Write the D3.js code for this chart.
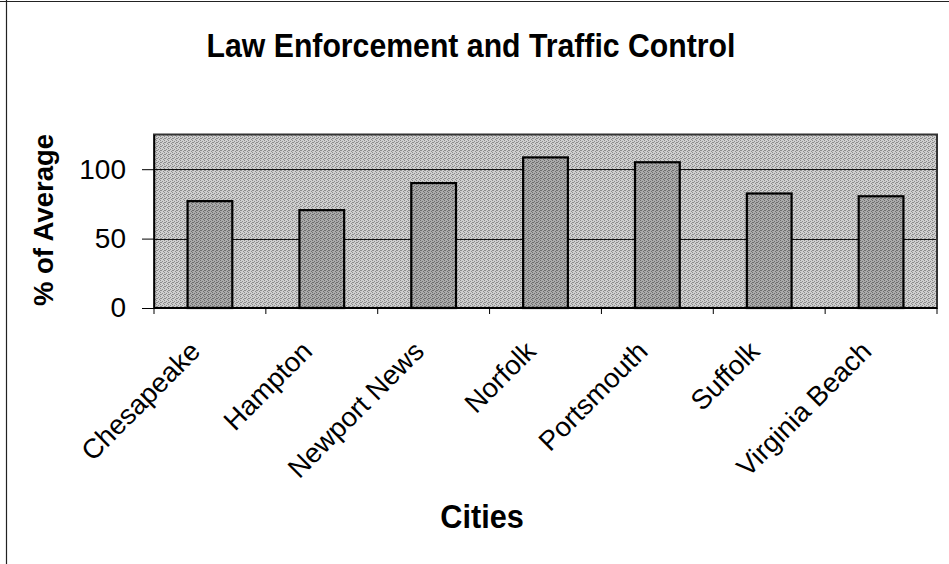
<!DOCTYPE html>
<html>
<head>
<meta charset="utf-8">
<script src="https://cdn.jsdelivr.net/npm/d3@7"></script>
<style>
  html, body { margin: 0; padding: 0; background: #fff; }
  svg { display: block; }
  text { font-family: "Liberation Sans", Arial, sans-serif; fill: #000; }
</style>
</head>
<body>
<svg id="chart" width="949" height="564"></svg>
<script>
const chartTitle = "Law Enforcement and Traffic Control";
const xTitle = "Cities";
const yTitle = "% of Average";
const cities = ["Chesapeake", "Hampton", "Newport News", "Norfolk", "Portsmouth", "Suffolk", "Virginia Beach"];
const values = [77, 70.5, 90, 108.5, 105, 82.5, 80.5];
const yTicks = [0, 50, 100];
const yMax = 125;

const svg = d3.select("#chart");
const W = 949, H = 564;
const plot = { left: 154, right: 937, top: 134.5, bottom: 308 };

// dither-like patterns
const defs = svg.append("defs");
function dither(id, light, dark) {
  const p = defs.append("pattern").attr("id", id).attr("patternUnits", "userSpaceOnUse")
    .attr("width", 4).attr("height", 4);
  p.append("rect").attr("width", 4).attr("height", 4).attr("fill", light);
  [[0,0],[2,1],[1,2],[3,3],[0,2]].forEach(([a,b]) =>
    p.append("rect").attr("x", a).attr("y", b).attr("width", 1).attr("height", 1).attr("fill", dark));
}
dither("bgPat", "#cfcfcf", "#8c8c8c");
dither("barPat", "#ababab", "#6e6e6e");

// outer frame
svg.append("line").attr("x1", 6.5).attr("x2", 6.5).attr("y1", 0).attr("y2", H)
  .attr("stroke", "#222").attr("stroke-width", 1.2);
svg.append("line").attr("x1", 0).attr("x2", W).attr("y1", 1.5).attr("y2", 1.5)
  .attr("stroke", "#222").attr("stroke-width", 1.2);

const x = d3.scaleBand().domain(cities).range([plot.left, plot.right])
  .paddingInner(0.6).paddingOuter(0.3);
const y = d3.scaleLinear().domain([0, yMax]).range([plot.bottom, plot.top]);

// plot background
svg.append("rect").attr("x", plot.left).attr("y", plot.top)
  .attr("width", plot.right - plot.left).attr("height", plot.bottom - plot.top)
  .attr("fill", "url(#bgPat)");

// gridlines
svg.append("g").selectAll("line").data(yTicks.filter(d => d > 0)).join("line")
  .attr("x1", plot.left).attr("x2", plot.right)
  .attr("y1", d => Math.round(y(d)) + 0.5).attr("y2", d => Math.round(y(d)) + 0.5)
  .attr("stroke", "#111").attr("stroke-width", 1);

// bars
svg.append("g").selectAll("rect").data(cities).join("rect")
  .attr("x", d => x(d))
  .attr("y", (d, i) => y(values[i]))
  .attr("width", x.bandwidth())
  .attr("height", (d, i) => plot.bottom - y(values[i]))
  .attr("fill", "url(#barPat)")
  .attr("stroke", "#000").attr("stroke-width", 2.2);

// plot border
svg.append("rect").attr("x", plot.left).attr("y", plot.top)
  .attr("width", plot.right - plot.left).attr("height", plot.bottom - plot.top)
  .attr("fill", "none").attr("stroke", "#333").attr("stroke-width", 2);

// y axis
const yAxis = d3.axisLeft(y).tickValues(yTicks).tickSize(12).tickPadding(16).tickSizeOuter(0);
const gy = svg.append("g").attr("transform", `translate(${plot.left},0)`).call(yAxis);
gy.select(".domain").attr("stroke", "#000").attr("stroke-width", 1.5);
gy.selectAll(".tick line").attr("stroke", "#000").attr("stroke-width", 1);
gy.selectAll(".tick text").attr("font-size", 28).attr("fill", "#000")
  .attr("font-family", "Liberation Sans, Arial, sans-serif");

// x axis: ticks at band boundaries
const bounds = cities.map(c => x(c) - x.step() * x.paddingInner() / 2);
bounds.push(plot.right);
svg.append("line").attr("x1", plot.left).attr("x2", plot.right)
  .attr("y1", plot.bottom).attr("y2", plot.bottom).attr("stroke", "#000").attr("stroke-width", 2);
svg.append("g").selectAll("line").data(bounds).join("line")
  .attr("x1", d => d).attr("x2", d => d)
  .attr("y1", plot.bottom).attr("y2", plot.bottom + 6)
  .attr("stroke", "#000").attr("stroke-width", 1);

// x labels
svg.append("g").selectAll("text").data(cities).join("text")
  .attr("transform", d => `translate(${x(d) + x.bandwidth() / 2 - 8},353) rotate(-45)`)
  .attr("text-anchor", "end")
  .attr("font-size", 27.5)
  .text(d => d);

// titles
svg.append("text").attr("transform", "translate(471,57) scale(0.93,1)").attr("text-anchor", "middle")
  .attr("font-size", 32.5).attr("font-weight", "bold").text(chartTitle);
svg.append("text").attr("transform", "translate(482,528) scale(0.93,1)").attr("text-anchor", "middle")
  .attr("font-size", 33).attr("font-weight", "bold").text(xTitle);
svg.append("text").attr("transform", "translate(53,220) rotate(-90)")
  .attr("text-anchor", "middle")
  .attr("font-size", 27.5).attr("font-weight", "bold").text(yTitle);
</script>
</body>
</html>
